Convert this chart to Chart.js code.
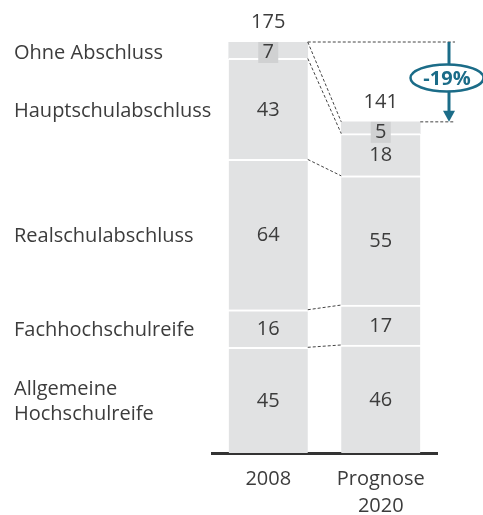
<!DOCTYPE html>
<html>
<head>
<meta charset="utf-8">
<script src="https://cdn.jsdelivr.net/npm/chart.js@4.4.1/dist/chart.umd.min.js"></script>
<style>
  html, body { margin: 0; padding: 0; background: #fff; }
  #wrap { width: 483px; height: 515px; }
</style>
</head>
<body>
<div id="wrap"><canvas id="chart" width="483" height="515"></canvas></div>
<script>
// Schulabgänger nach Abschlussart (Tausend)
const years = ['2008', ['Prognose', '2020']];
const categories = ['Allgemeine Hochschulreife', 'Fachhochschulreife', 'Realschulabschluss', 'Hauptschulabschluss', 'Ohne Abschluss'];
const categoryLines = [['Allgemeine', 'Hochschulreife'], ['Fachhochschulreife'], ['Realschulabschluss'], ['Hauptschulabschluss'], ['Ohne Abschluss']];
const allgemeine = [45, 46];
const fachhoch = [16, 17];
const realschule = [64, 55];
const hauptschule = [43, 18];
const ohne = [7, 5];
const totals = [175, 141];
const changeLabel = '-19%';

const textColor = '#3c3c3c';
const barColor = '#e1e2e3';
const boxColor = '#d0d1d2';
const teal = '#1b6c88';
const font = '"Open Sans", "Noto Sans", sans-serif';

const seriesValues = [allgemeine, fachhoch, realschule, hauptschule, ohne];

const extrasPlugin = {
    id: 'extras',
    afterDatasetsDraw(chart) {
        const ctx = chart.ctx;
        const x = chart.scales.x;
        const y = chart.scales.y;
        const metas = seriesValues.map((v, i) => chart.getDatasetMeta(i));
        const r1 = metas[0].data[0];
        const r2 = metas[0].data[1];
        const arrowX = x.right + 12;

        // dashed connectors between the bars
        ctx.save();
        ctx.strokeStyle = '#444';
        ctx.lineWidth = 1;
        ctx.setLineDash([3, 2]);
        let cum = [0, 0];
        seriesValues.forEach((vals) => {
            cum = [cum[0] + vals[0], cum[1] + vals[1]];
            ctx.beginPath();
            ctx.moveTo(r1.x + r1.width / 2, y.getPixelForValue(cum[0]));
            ctx.lineTo(r2.x - r2.width / 2, y.getPixelForValue(cum[1]));
            ctx.stroke();
        });
        ctx.beginPath();
        ctx.moveTo(r1.x + r1.width / 2, y.getPixelForValue(totals[0]));
        ctx.lineTo(arrowX + 6, y.getPixelForValue(totals[0]));
        ctx.moveTo(r2.x + r2.width / 2, y.getPixelForValue(totals[1]));
        ctx.lineTo(arrowX + 6, y.getPixelForValue(totals[1]));
        ctx.stroke();
        ctx.restore();

        // value labels inside the segments
        ctx.save();
        ctx.font = '20px ' + font;
        ctx.textAlign = 'center';
        ctx.textBaseline = 'middle';
        metas.forEach((meta, i) => {
            meta.data.forEach((bar, j) => {
                const cy = (bar.y + bar.base) / 2;
                const txt = String(seriesValues[i][j]);
                if (i === seriesValues.length - 1) {
                    ctx.fillStyle = boxColor;
                    ctx.fillRect(bar.x - 10, bar.y, 20, 21);
                    ctx.fillStyle = textColor;
                    ctx.fillText(txt, bar.x, bar.y + 10);
                } else {
                    ctx.fillStyle = textColor;
                    ctx.fillText(txt, bar.x, cy + 1);
                }
            });
        });
        // totals
        totals.forEach((t, j) => {
            ctx.fillText(String(t), metas[0].data[j].x, y.getPixelForValue(t) - 20);
        });

        // category labels on the left, aligned to the 2008 bar
        ctx.textAlign = 'left';
        metas.forEach((meta, i) => {
            const bar = meta.data[0];
            const lines = categoryLines[i];
            let cy = (bar.y + bar.base) / 2;
            if (i === seriesValues.length - 1) cy = bar.y + 9;
            const lh = 25;
            lines.forEach((ln, k) => {
                ctx.fillText(ln, 14, cy + 2 + (k - (lines.length - 1) / 2) * lh);
            });
        });
        ctx.restore();

        // -19% arrow
        ctx.save();
        const yTop = y.getPixelForValue(totals[0]);
        const yBot = y.getPixelForValue(totals[1]);
        ctx.strokeStyle = teal;
        ctx.fillStyle = teal;
        ctx.lineWidth = 3;
        ctx.beginPath();
        ctx.moveTo(arrowX, yTop);
        ctx.lineTo(arrowX, yBot - 10);
        ctx.stroke();
        ctx.beginPath();
        ctx.moveTo(arrowX - 6, yBot - 11);
        ctx.lineTo(arrowX + 6, yBot - 11);
        ctx.lineTo(arrowX, yBot);
        ctx.closePath();
        ctx.fill();
        const ey = (yTop + yBot) / 2 - 4;
        const ex = arrowX - 2;
        ctx.fillStyle = '#fff';
        ctx.lineWidth = 2.5;
        ctx.beginPath();
        ctx.ellipse(ex, ey, 36.5, 13.5, 0, 0, Math.PI * 2);
        ctx.fill();
        ctx.stroke();
        ctx.fillStyle = teal;
        ctx.font = 'bold 20px ' + font;
        ctx.textAlign = 'center';
        ctx.textBaseline = 'middle';
        ctx.fillText(changeLabel, ex, ey + 1);
        ctx.restore();
    }
};

new Chart(document.getElementById('chart'), {
    type: 'bar',
    data: {
        labels: years,
        datasets: seriesValues.map((vals, i) => ({
            label: categories[i],
            data: vals,
            backgroundColor: barColor,
            borderColor: '#ffffff',
            borderWidth: { top: i === seriesValues.length - 1 ? 0 : 2, bottom: 0, left: 0, right: 0 },
            borderSkipped: false,
            barThickness: 79
        }))
    },
    options: {
        responsive: false,
        animation: false,
        layout: { padding: { left: 212, right: 46, top: 42, bottom: -10 } },
        scales: {
            x: {
                stacked: true,
                grid: { display: false },
                border: { color: '#333', width: 3 },
                ticks: {
                    color: textColor,
                    padding: 5,
                    font: { family: font, size: 20, lineHeight: 1.35 }
                }
            },
            y: {
                stacked: true,
                display: false,
                min: 0,
                max: 175
            }
        },
        plugins: {
            legend: { display: false },
            tooltip: { enabled: false }
        }
    },
    plugins: [extrasPlugin]
});
</script>
</body>
</html>
